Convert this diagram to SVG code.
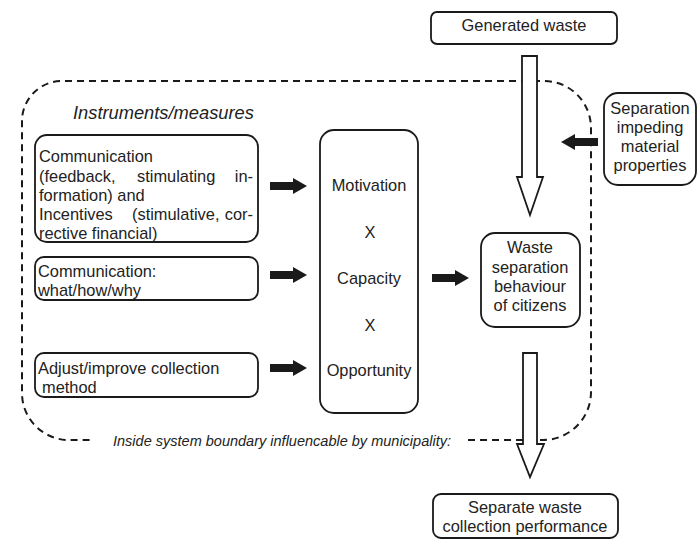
<svg xmlns="http://www.w3.org/2000/svg" width="697" height="544" viewBox="0 0 697 544">
<style>
  .box { fill: #fff; stroke: #1a1a1a; stroke-width: 1.8; }
  .t { font-family: "Liberation Sans", Arial, sans-serif; font-size: 16.4px; fill: #222; }
  .c { text-anchor: middle; }
  .it { font-family: "Liberation Sans", Arial, sans-serif; font-style: italic; fill: #222; }
  .hollow { fill: #fff; stroke: #1a1a1a; stroke-width: 1.8; stroke-linejoin: miter; }
  .solid { fill: #1a1a1a; stroke: none; }
  .dash { fill: none; stroke: #1a1a1a; stroke-width: 2; stroke-dasharray: 7 5; }
</style>
<rect width="697" height="544" fill="#fff"/>

<g id="boundary">
  <path class="dash" d="M 468 440 L 543 440 A 48 48 0 0 0 591 392 L 591 128 A 47 47 0 0 0 544 81 L 62 81 A 40 40 0 0 0 22 121 L 22 393 A 47 47 0 0 0 69 440 L 93 440"/>
  <text class="it" x="113" y="446" font-size="14" textLength="338" lengthAdjust="spacingAndGlyphs">Inside system  boundary influencable by municipality:</text>
  <text class="it" x="73" y="119" font-size="18.3">Instruments/measures</text>
</g>

<g id="connectors">
  <polygon id="flow-in" class="hollow" points="522,56 537,56 537,177 543,177 530,215 517,177 522,177"/>
  <polygon id="flow-out" class="hollow" points="523,353 537,353 537,444 544,444 530,477 517,444 523,444"/>
  <polygon id="a1" class="solid" points="270,182 293,182 293,178 307,186 293,194 293,190 270,190"/>
  <polygon id="a2" class="solid" points="270,271 293,271 293,267 307,275 293,283 293,279 270,279"/>
  <polygon id="a3" class="solid" points="270,364 293,364 293,360 307,368 293,376 293,372 270,372"/>
  <polygon id="a4" class="solid" points="432,274 455,274 455,270 469,278 455,286 455,282 432,282"/>
  <polygon id="a5" class="solid" points="598,138 575,138 575,134 561,142 575,150 575,146 598,146"/>
</g>

<g id="generated-waste">
  <rect class="box" x="431" y="12" width="186" height="32" rx="6"/>
  <text class="t c" x="524" y="31">Generated waste</text>
</g>

<g id="separation-impeding">
  <rect class="box" x="604" y="93" width="92" height="92" rx="14"/>
  <text class="t c" x="650" y="114">Separation</text>
  <text class="t c" x="650" y="133">impeding</text>
  <text class="t c" x="650" y="152">material</text>
  <text class="t c" x="650" y="171">properties</text>
</g>

<g id="instrument-1">
  <rect class="box" x="35" y="135" width="223" height="107" rx="12"/>
  <text class="t" x="39" y="162">Communication</text>
  <text class="t" y="182"><tspan x="39">(feedback,</tspan><tspan x="137">stimulating</tspan></text>
  <text class="t" x="253" y="182" text-anchor="end">in-</text>
  <text class="t" x="39" y="201">formation) and</text>
  <text class="t" y="220"><tspan x="39">Incentives</tspan><tspan x="132">(stimulative,</tspan></text>
  <text class="t" x="253" y="220" text-anchor="end">cor-</text>
  <text class="t" x="39" y="239">rective financial)</text>
</g>

<g id="instrument-2">
  <rect class="box" x="35" y="257" width="223" height="43" rx="9"/>
  <text class="t" x="38" y="277">Communication:</text>
  <text class="t" x="38" y="296">what/how/why</text>
</g>

<g id="instrument-3">
  <rect class="box" x="35" y="353" width="223" height="44" rx="9"/>
  <text class="t" x="38" y="374">Adjust/improve collection</text>
  <text class="t" x="42" y="393">method</text>
</g>

<g id="mco">
  <rect class="box" x="320" y="130" width="98" height="283" rx="14"/>
  <text class="t c" x="369" y="191">Motivation</text>
  <text class="t c" x="370" y="238">X</text>
  <text class="t c" x="369" y="284">Capacity</text>
  <text class="t c" x="370" y="331">X</text>
  <text class="t c" x="369" y="376">Opportunity</text>
</g>

<g id="behaviour">
  <rect class="box" x="481" y="233" width="99" height="94" rx="14"/>
  <text class="t c" x="530" y="253">Waste</text>
  <text class="t c" x="530" y="273">separation</text>
  <text class="t c" x="530" y="292">behaviour</text>
  <text class="t c" x="530" y="311">of citizens</text>
</g>

<g id="performance">
  <rect class="box" x="433" y="494" width="185" height="44" rx="8"/>
  <text class="t c" x="525" y="513">Separate waste</text>
  <text class="t c" x="525" y="532">collection performance</text>
</g>
</svg>
